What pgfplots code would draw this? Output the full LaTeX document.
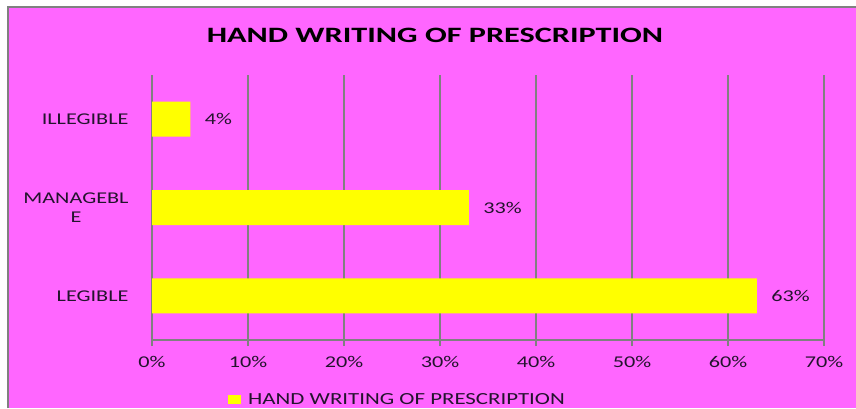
\documentclass[border=0pt]{standalone}
\usepackage{fontspec}
\setmainfont{Carlito}[FakeStretch=1.35]
\newfontfamily\titlefont{Carlito}[FakeStretch=1.47]
\usepackage{pgfplots}
\pgfplotsset{compat=1.18}
\definecolor{bgmag}{RGB}{255,102,255}
\definecolor{baryel}{RGB}{255,255,0}
\definecolor{gridg}{RGB}{128,128,128}
\definecolor{txt}{RGB}{35,20,45}
\begin{document}
\begin{tikzpicture}[x=1bp,y=1bp]
\fill[white] (0,0) rectangle (856,408);
\fill[bgmag] (8,0) rectangle (856,401);
\draw[gridg,line width=1.5bp] (8,0) -- (8,401) -- (856,401);
\node[anchor=base,font=\titlefont\fontsize{22}{25}\selectfont\bfseries,text=black,inner sep=0pt] at (435,366) {HAND WRITING OF PRESCRIPTION};
\begin{axis}[
  at={(152bp,68bp)}, anchor=south west,
  scale only axis, width=672bp, height=265bp,
  xbar, bar width=35bp,
  xmin=0, xmax=70, ymin=-0.5, ymax=2.5,
  axis x line*=bottom, axis y line*=left,
  axis line style={gridg,line width=1.5bp,-},
  xtick={0,10,...,70},
  xticklabel={\pgfmathprintnumber{\tick}\%},
  xmajorgrids, major grid style={gridg,line width=1.5bp},
  tick style={gridg,line width=1.5bp},
  tick align=outside, major tick length=6bp,
  ytick={0,1,2},
  yticklabels={LEGIBLE,{MANAGEBL\\E},ILLEGIBLE},
  y tick style={draw=none},
  minor ytick={-0.5,0.5,1.5,2.5},
  minor tick length=7bp,
  minor y tick style={gridg,line width=1.5bp},
  /pgf/number format/assume math mode=true,
  ticklabel style={font=\fontsize{16.5}{19}\selectfont,text=txt},
  yticklabel style={align=center,xshift=-14bp},
  xticklabel style={yshift=-7bp},
  nodes near coords={\pgfmathprintnumber{\pgfplotspointmeta}\%},
  point meta=x,
  every node near coord/.append style={font=\fontsize{16.5}{19}\selectfont,text=txt,anchor=west,xshift=11bp},
  clip=false,
]
\addplot[fill=baryel,draw=none] coordinates {(63,0) (33,1) (4,2)};
\end{axis}
\fill[baryel] (228,4) rectangle (241,13);
\node[anchor=base west,font=\fontsize{17}{19}\selectfont,text=txt,inner sep=0pt] at (248,4) {HAND WRITING OF PRESCRIPTION};
\pgfresetboundingbox
\path (0,0) rectangle (856,408);
\end{tikzpicture}
\end{document}
